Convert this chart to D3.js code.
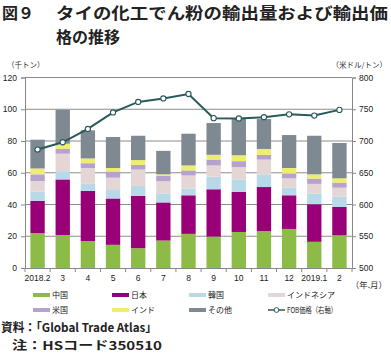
<!DOCTYPE html>
<html><head><meta charset="utf-8">
<script src="https://cdnjs.cloudflare.com/ajax/libs/d3/7.8.5/d3.min.js"></script>
<style>
html,body{margin:0;padding:0;background:#fff;}
svg{display:block;font-family:"Noto Sans CJK JP","Noto Sans",Arial,sans-serif;}
</style></head>
<body>
<svg id="c" width="391" height="357"></svg>
<script>
const categories = ["2018.2","3","4","5","6","7","8","9","10","11","12","2019.1","2"];
const china     = [22, 20.8, 17, 14.6, 12.5, 17.3, 21.5, 19.8, 22.7, 23.3, 24.6, 16.5, 20.6];
const japan     = [20.3, 35, 31.5, 29.2, 32.9, 24, 24.3, 29.8, 25.2, 27.7, 21.2, 23.7, 17.9];
const korea     = [5.8, 5.2, 4.5, 5.8, 6.3, 5.7, 4.2, 7.9, 7.9, 8, 4.8, 6.7, 6.5];
const indonesia = [6.7, 11, 10, 7.3, 10.3, 7.6, 8.3, 7.1, 7.7, 9.3, 5.9, 6.1, 5.6];
const usa       = [4.2, 3, 3, 3.9, 3, 3.4, 3.2, 3.7, 3.8, 3, 3.1, 3.3, 3.2];
const india     = [3.7, 3.3, 3, 2.2, 3, 1, 3.1, 3, 3.7, 3.7, 3.4, 2.7, 2.7];
const others    = [18.1, 21.3, 17.7, 19.5, 15.3, 14.8, 20, 20, 23.4, 18.8, 20.75, 24.3, 22.25];
const fobPrice  = [686.5, 698, 719, 745, 761.5, 767, 774, 736, 735.5, 737.5, 742, 740, 749];
const leftTicks  = [0, 20, 40, 60, 80, 100, 120];
const rightTicks = [500, 550, 600, 650, 700, 750, 800];

const seriesNames = ["中国","日本","韓国","インドネシア","米国","インド","その他"];
const seriesColors = ["#8dbb48","#990077","#b7d9e8","#e4d6d4","#b5a2cd","#eeee6c","#7f8991"];
const seriesData = [china, japan, korea, indonesia, usa, india, others];
const lineColor = "#285a5a";

const svg = d3.select("#c");
const X0 = 25, X1 = 352, Y0 = 268, Y1 = 77.5;

const x = d3.scaleBand().domain(categories).range([X0, X1]).paddingInner(0.43).paddingOuter(0.215);
const yL = d3.scaleLinear().domain([0,120]).range([Y0, Y1]);
const yR = d3.scaleLinear().domain([500,800]).range([Y0, Y1]);

// title
const title = svg.append("g").attr("font-weight","bold").attr("fill","#222").attr("font-size",16);
title.append("text").attr("x",2).attr("y",19).text("図９");
title.append("text").attr("x",56).attr("y",19).attr("textLength",332).attr("lengthAdjust","spacingAndGlyphs").text("タイの化工でん粉の輸出量および輸出価");
title.append("text").attr("x",56).attr("y",42.5).text("格の推移");

// unit labels
svg.append("text").attr("x",7).attr("y",68).attr("font-size",7.5).attr("fill","#333").text("（千トン）");
svg.append("text").attr("x",387).attr("y",68).attr("font-size",7.5).attr("fill","#333").attr("text-anchor","end").text("（米ドル/トン）");

// gridlines
svg.append("g").selectAll("line").data(leftTicks.filter(d=>d>0)).join("line")
  .attr("x1",X0).attr("x2",X1).attr("y1",d=>yL(d)).attr("y2",d=>yL(d))
  .attr("stroke","#8c8c8c").attr("stroke-width",1);

// stacked bars
const rows = categories.map((c,i)=>{const o={cat:c}; seriesNames.forEach((n,k)=>o[n]=seriesData[k][i]); return o;});
const stack = d3.stack().keys(seriesNames)(rows);
svg.append("g").selectAll("g").data(stack).join("g")
  .attr("fill",(d,i)=>seriesColors[i])
  .selectAll("rect").data(d=>d).join("rect")
  .attr("x",d=>x(d.data.cat)).attr("width",x.bandwidth())
  .attr("y",d=>yL(d[1])).attr("height",d=>yL(d[0])-yL(d[1]));

// axes
const axL = svg.append("g").attr("transform",`translate(${X0},0)`)
  .call(d3.axisLeft(yL).tickValues(leftTicks).tickSize(4).tickPadding(4));
const axR = svg.append("g").attr("transform",`translate(${X1},0)`)
  .call(d3.axisRight(yR).tickValues(rightTicks).tickSize(4).tickPadding(3));
[axL,axR].forEach(a=>{
  a.select(".domain").attr("stroke","#888");
  a.selectAll(".tick line").attr("stroke","#888");
  a.selectAll("text").attr("font-size",8.5).attr("fill","#222").attr("font-family","Arial,'Liberation Sans',sans-serif");
});
const axB = svg.append("g").attr("transform",`translate(0,${Y0})`)
  .call(d3.axisBottom(x).tickSize(0).tickPadding(7));
axB.select(".domain").attr("stroke","#888");
axB.selectAll("text").attr("font-size",8.5).attr("fill","#222").attr("font-family","Arial,'Liberation Sans',sans-serif");
// boundary tick marks
svg.append("g").selectAll("line").data(d3.range(categories.length+1)).join("line")
  .attr("x1",i=>X0+(X1-X0)*i/categories.length).attr("x2",i=>X0+(X1-X0)*i/categories.length)
  .attr("y1",Y0).attr("y2",Y0+4).attr("stroke","#888");

svg.append("text").attr("x",387).attr("y",288).attr("font-size",8.5).attr("fill","#333").attr("text-anchor","end").text("（年.月）");

// line
const cx = d=>x(d)+x.bandwidth()/2;
svg.append("path").datum(fobPrice).attr("fill","none").attr("stroke",lineColor).attr("stroke-width",2)
  .attr("d",d3.line().x((d,i)=>cx(categories[i])).y(d=>yR(d)));
svg.append("g").selectAll("circle").data(fobPrice).join("circle")
  .attr("cx",(d,i)=>cx(categories[i])).attr("cy",d=>yR(d)).attr("r",2.6)
  .attr("fill","#fff").attr("stroke",lineColor).attr("stroke-width",1.1);

// legend
const legendItems = [
  {n:"中国",c:seriesColors[0],x:33,y:295},
  {n:"日本",c:seriesColors[1],x:112,y:295},
  {n:"韓国",c:seriesColors[2],x:189,y:295},
  {n:"インドネシア",c:seriesColors[3],x:268,y:295},
  {n:"米国",c:seriesColors[4],x:33,y:310},
  {n:"インド",c:seriesColors[5],x:112,y:310},
  {n:"その他",c:seriesColors[6],x:189,y:310},
];
const lg = svg.append("g");
legendItems.forEach(it=>{
  lg.append("rect").attr("x",it.x).attr("y",it.y-2).attr("width",17).attr("height",4).attr("fill",it.c);
  lg.append("text").attr("x",it.x+19).attr("y",it.y+3).attr("font-size",8).attr("fill","#222").text(it.n);
});
lg.append("line").attr("x1",268).attr("x2",285).attr("y1",310).attr("y2",310).attr("stroke",lineColor).attr("stroke-width",1.5);
lg.append("circle").attr("cx",276.5).attr("cy",310).attr("r",2.4).attr("fill","#fff").attr("stroke",lineColor).attr("stroke-width",1);
lg.append("text").attr("x",287).attr("y",313).attr("font-size",8).attr("fill","#222")
  .attr("textLength",50).attr("lengthAdjust","spacingAndGlyphs").text("FOB価格（右軸）");

// notes
svg.append("text").attr("x",1).attr("y",332).attr("font-size",12).attr("font-weight","bold").attr("fill","#222")
  .attr("textLength",156).attr("lengthAdjust","spacingAndGlyphs").text("資料：「Global Trade Atlas」");
svg.append("text").attr("x",12).attr("y",350).attr("font-size",12).attr("font-weight","bold").attr("fill","#222")
  .attr("textLength",150).attr("lengthAdjust","spacingAndGlyphs").text("注：HSコード350510");
</script>
</body></html>
